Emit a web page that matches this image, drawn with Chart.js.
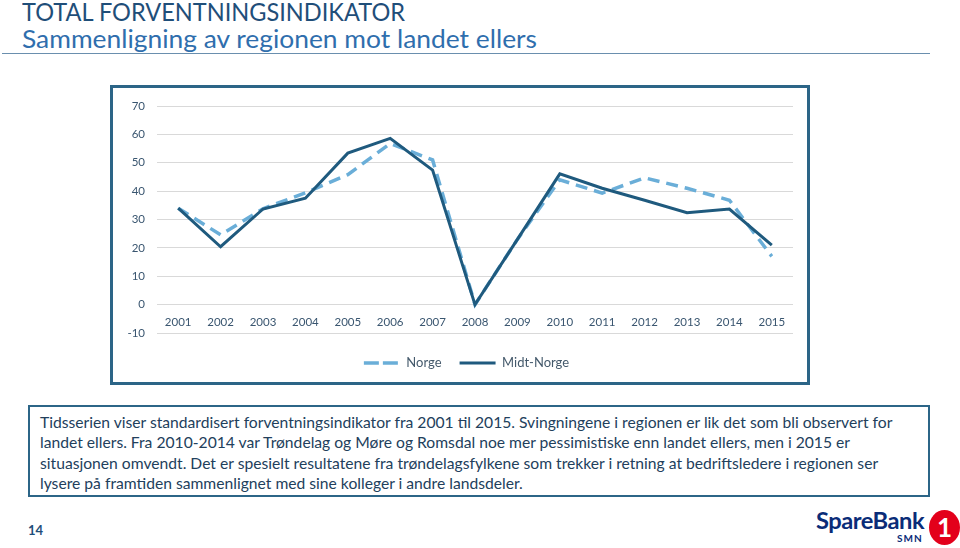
<!DOCTYPE html>
<html>
<head>
<meta charset="utf-8">
<script src="https://cdn.jsdelivr.net/npm/chart.js@4.4.1/dist/chart.umd.min.js"></script>
<style>
  html, body { margin:0; padding:0; background:#fff; }
  body { width:960px; height:548px; position:relative; overflow:hidden; font-family: Lato, "Open Sans", sans-serif; }
  .abs { position:absolute; white-space:nowrap; }
  #t1 { left:22px; top:-4px; color:#1F4E79; font-size:25.5px; line-height:30px; transform-origin:0 0; }
  #t2 { left:22px; top:23px; color:#2F6EAD; font-size:25.5px; line-height:30px; transform-origin:0 0; }
  #rule { left:2px; top:53px; width:928px; height:0; border-top:1.5px solid #6A8FAE; }
  #chartBox { left:110px; top:85px; width:700px; height:300px; box-sizing:border-box; border:3px solid #2C6587; }
  #chartWrap { left:110px; top:85px; width:713px; height:300px; }
  #textBox { left:28px; top:405px; width:902px; height:92px; box-sizing:border-box; border:2px solid #2C6587; }
  #text { left:40px; top:412px; color:#22405C; font-size:15px; line-height:20.4px; }
  #text span { display:block; white-space:nowrap; }
  #pg { left:28px; top:522px; color:#1F4E79; font-size:13px; font-weight:bold; }
  #sb { left:816px; top:506px; color:#0A2C78; font-size:23px; font-weight:bold; letter-spacing:-0.5px; }
  #smn { left:897px; top:532px; color:#0A2C78; font-size:10px; font-weight:bold; letter-spacing:1px; }
  #one { left:929px; top:510px; width:31px; height:35px; border-radius:50%; background:#E3001B; color:#fff; font-size:26px; font-weight:bold; text-align:center; line-height:35px; }
</style>
</head>
<body>
<div id="t1" class="abs">TOTAL FORVENTNINGSINDIKATOR</div>
<div id="t2" class="abs">Sammenligning av regionen mot landet ellers</div>
<div id="rule" class="abs"></div>
<div id="chartBox" class="abs"></div>
<div id="chartWrap" class="abs"><canvas id="c" width="713" height="300"></canvas></div>
<div id="textBox" class="abs"></div>
<div id="text" class="abs">
  <span id="l1">Tidsserien viser standardisert forventningsindikator fra 2001 til 2015. Svingningene i regionen er lik det som bli observert for</span>
  <span>landet ellers. Fra 2010-2014 var Trøndelag og Møre og Romsdal noe mer pessimistiske enn landet ellers, men i 2015 er</span>
  <span>situasjonen omvendt. Det er spesielt resultatene fra trøndelagsfylkene som trekker i retning at bedriftsledere i regionen ser</span>
  <span>lysere på framtiden sammenlignet med sine kolleger i andre landsdeler.</span>
</div>
<div id="pg" class="abs">14</div>
<div id="sb" class="abs">SpareBank</div>
<div id="smn" class="abs">SMN</div>
<div id="one" class="abs">1</div>
<script>
const years = ['2001','2002','2003','2004','2005','2006','2007','2008','2009','2010','2011','2012','2013','2014','2015'];
const norge = [34, 24.6, 33.8, 39.4, 45.8, 56.8, 51, 0, 23, 44, 39.3, 44.7, 41, 36.8, 17];
const midtNorge = [34, 20.4, 33.7, 37.5, 53.4, 58.6, 47.4, 0, 23, 46.1, 41, 36.8, 32.4, 33.7, 21];
const yMin = -10, yMax = 70, yStep = 10;

function squeeze(el, target) {
  const w = el.getBoundingClientRect().width;
  if (w > 0) el.style.transform = 'scaleX(' + (target / w) + ')';
}
function fitWidth(el, target) {
  const fs = parseFloat(getComputedStyle(el).fontSize);
  const w = el.getBoundingClientRect().width;
  if (w > 0) el.style.fontSize = (fs * target / w) + 'px';
}
squeeze(document.getElementById('t1'), 383);
squeeze(document.getElementById('t2'), 515);
(function(){
  const l1 = document.getElementById('l1');
  const r = document.createRange(); r.selectNodeContents(l1);
  const w = r.getBoundingClientRect().width;
  const t = document.getElementById('text');
  t.style.fontSize = (15 * 853 / w) + 'px';
})();
fitWidth(document.getElementById('sb'), 108);

const tickColor = '#3A5670';
new Chart(document.getElementById('c'), {
  type: 'line',
  data: {
    labels: years,
    datasets: [
      { label: 'Norge', data: norge, borderColor: '#6AAED8', backgroundColor: '#6AAED8', borderWidth: 3.5, borderDash: [12, 7], pointRadius: 0, tension: 0, order: 1 },
      { label: 'Midt-Norge', data: midtNorge, borderColor: '#1F5A7E', backgroundColor: '#1F5A7E', borderWidth: 3, pointRadius: 0, tension: 0, order: 0 }
    ]
  },
  options: {
    responsive: false,
    animation: false,
    layout: { padding: { left: 0, right: 0, top: 21, bottom: 5.5 } },
    plugins: {
      tooltip: { enabled: false },
      legend: {
        position: 'bottom',
        labels: {
          boxWidth: 36, boxHeight: 0, padding: 18,
          color: '#44596B',
          font: { family: 'Lato', size: 13 },
          sort: (a, b) => a.datasetIndex - b.datasetIndex
        }
      }
    },
    scales: {
      x: {
        type: 'category', offset: true,
        position: { y: 0 },
        grid: { display: false, drawTicks: false },
        border: { display: false },
        ticks: { color: tickColor, font: { family: 'Lato', size: 11.5 }, padding: 11, maxRotation: 0, autoSkip: false }
      },
      xd: {
        type: 'category', position: 'bottom', offset: true,
        grid: { display: false, drawTicks: false },
        border: { display: false },
        ticks: { display: false },
        afterFit: s => { s.height = 5.5; }
      },
      y: {
        min: yMin, max: yMax,
        grid: { color: '#D9D9D9', lineWidth: 1, drawTicks: false },
        border: { display: false },
        ticks: { stepSize: yStep, color: tickColor, font: { family: 'Lato', size: 11.5 }, padding: 12 },
        afterFit: s => { s.width = 47; }
      },
      yd: {
        position: 'right', min: yMin, max: yMax,
        grid: { display: false, drawTicks: false },
        border: { display: false },
        ticks: { display: false },
        afterFit: s => { s.width = 30; }
      }
    }
  }
});
</script>
</body>
</html>
